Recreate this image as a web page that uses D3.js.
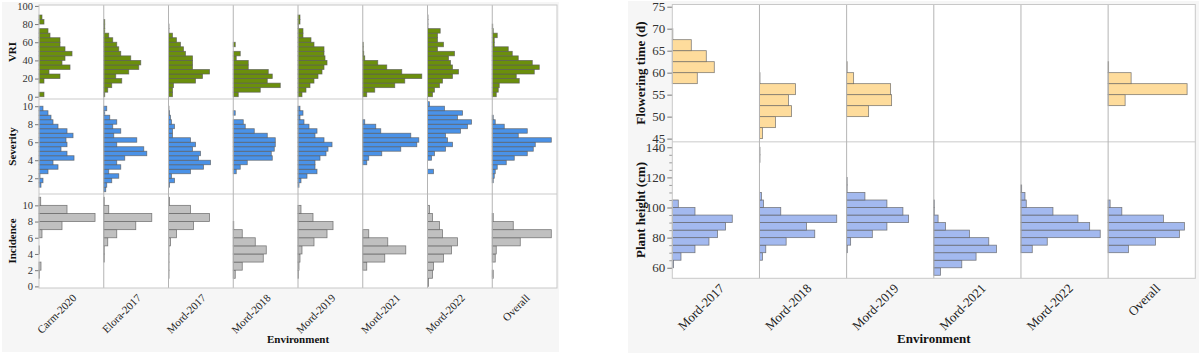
<!DOCTYPE html>
<html>
<head>
<meta charset="utf-8">
<script src="https://cdn.jsdelivr.net/npm/d3@7"></script>
<style>
body { margin: 0; background: #fff; }
text { font-family: "Liberation Serif", "DejaVu Serif", serif; }
</style>
</head>
<body>
<script>
// environments on each panel
const leftEnvs = ["Carm-2020", "Elora-2017", "Mord-2017", "Mord-2018", "Mord-2019", "Mord-2021", "Mord-2022", "Overall"];
const rightEnvs = ["Mord-2017", "Mord-2018", "Mord-2019", "Mord-2021", "Mord-2022", "Overall"];

// VRI: bins of 5, lower edges
const vriEdges = [0, 5, 10, 15, 20, 25, 30, 35, 40, 45, 50, 55, 60, 65, 70, 75, 80, 85];
const vriCounts = [
  [5, 0, 0, 5, 21, 10, 31, 23, 26, 33, 26, 21, 21, 11, 9, 0, 5, 3],
  [1, 4, 8, 18, 12, 25, 35, 37, 27, 17, 15, 13, 9, 5, 1, 1, 1, 0],
  [4, 4, 5, 27, 34, 41, 24, 24, 24, 17, 15, 12, 8, 4, 0.5, 0.5, 0, 0],
  [5, 27, 47, 34, 39, 35, 15, 15, 3, 7, 0, 2, 0, 0, 0, 0, 0, 0],
  [4, 8, 12, 16, 20, 24, 26, 29, 27, 26, 26, 16, 13, 5, 5, 0.5, 2, 2],
  [4, 12, 32, 42, 59, 39, 24, 15, 2, 1, 0.5, 0.5, 0, 0, 0, 0, 0, 0],
  [5, 7, 12, 15, 25, 31, 25, 23, 21, 27, 10, 16, 10, 10, 12.7, 0.5, 0.5, 0.5],
  [4, 6, 7, 27, 24, 42, 47, 40, 26, 20, 16, 2, 2, 5, 1, 0.5, 0, 0]
];

// Severity: bins of 0.5
const sevEdges = [0.5, 1, 1.5, 2, 2.5, 3, 3.5, 4, 4.5, 5, 5.5, 6, 6.5, 7, 7.5, 8, 8.5, 9, 9.5, 10];
const sevCounts = [
  [0, 2, 4, 1, 9, 19, 14, 35, 28, 22, 28, 27, 34, 28, 19, 14, 12, 9, 4, 0],
  [2, 3, 8, 15, 5, 17, 13, 21, 43, 40, 13, 33, 10, 17, 9, 13, 6, 1, 3, 0],
  [0, 1, 6, 3, 22, 35, 42, 30, 32, 24, 27, 22, 4, 4, 6, 3, 2, 1, 0.5, 0],
  [0, 0, 0, 0, 3, 7, 14, 39, 38, 41, 42, 42, 34, 21, 12, 10, 0, 2, 0, 0],
  [0, 1, 3, 9, 19, 17, 17, 22, 28, 30, 34, 26, 17, 19, 11, 6, 2, 5, 2, 0],
  [0, 0, 0, 0, 0, 0, 4, 6, 19, 38, 54, 56, 48, 18, 13, 2, 0, 0, 0, 0],
  [0, 0, 0, 0, 6, 0, 0, 4, 7, 18, 25, 20, 18, 33, 40, 44, 30, 35, 17, 2],
  [0, 0, 1, 2, 3, 5, 14, 22, 35, 41, 43, 59, 26, 35, 12, 3, 1, 0, 0, 0]
];

// Incidence: bins of 1
const incEdges = [0, 1, 2, 3, 4, 5, 6, 7, 8, 9, 10];
const incCounts = [
  [0, 0.5, 2, 0, 0.5, 0, 3, 23, 56, 28, 1.7],
  [0, 0, 0, 0.5, 0.5, 4, 13, 32, 48, 5, 0.5],
  [0, 0.5, 0.5, 0.5, 0.5, 2, 8, 25, 41, 22, 1],
  [0, 2, 9, 30, 33, 22, 9, 0.5, 0, 0, 0],
  [0, 0.5, 1, 2, 4, 16, 29, 35, 15, 3, 0],
  [0, 0, 4, 22, 43, 25, 6, 0, 0, 0, 0],
  [1, 5, 6, 16, 24, 30, 15, 12, 5, 2, 0],
  [0, 1, 0, 3, 4, 28, 59, 21, 1, 0, 0]
];

// Flowering time: bins of 2.5
const flowEdges = [45, 47.5, 50, 52.5, 55, 57.5, 60, 62.5, 65, 67.5];
const flowCounts = [
  [0, 0, 0, 0, 0, 25, 42, 34, 19, 0.5],
  [3, 16, 32, 29, 36, 0.5, 0, 0, 0, 0],
  [0, 0, 22, 45, 44, 7, 0.5, 0, 0, 0],
  null,
  null,
  [0, 0, 0, 17, 79, 23, 0.5, 0, 0, 0]
];

// Plant height: bins of 5
const phEdges = [55, 60, 65, 70, 75, 80, 85, 90, 95, 100, 105, 110, 115, 120, 125, 130, 135];
const phCounts = [
  [0, 1.3, 8.7, 22.7, 36.7, 45.3, 53.3, 60, 22.7, 6, 0, 0, 0, 0, 0, 0, 0],
  [0, 0, 3, 6.3, 26.7, 55.3, 47, 77.3, 21.3, 4, 2, 0, 0, 0, 0, 0.5, 0.5],
  [0, 0, 0, 0.7, 4, 25.7, 40.3, 62, 56.3, 40.3, 18.3, 0.5, 0.5, 0, 0, 0, 0],
  [6.7, 28, 42.3, 62.7, 55, 35.7, 11.7, 4.3, 0.5, 0.5, 0, 0, 0, 0, 0, 0, 0],
  [0, 0, 0, 11.3, 26.3, 79.3, 68.7, 57, 32, 5.3, 4, 0.7, 0, 0, 0, 0, 0],
  [0, 0, 0, 20.3, 47.3, 71.3, 76.3, 55.3, 13.7, 2, 0, 0, 0, 0, 0, 0, 0]
];

const vriTicks = [0, 20, 40, 60, 80, 100];
const sevTicks = [2, 4, 6, 8, 10];
const incTicks = [0, 2, 4, 6, 8, 10];
const flowTicks = [45, 50, 55, 60, 65, 70, 75];
const phTicks = [60, 80, 100, 120, 140];
const phMinor = [65, 70, 75, 85, 90, 95, 105, 110, 115, 125, 130, 135];

const svg = d3.select("body").append("svg")
  .attr("width", 1200).attr("height", 354);

// panel backgrounds
svg.append("rect").attr("x", 2).attr("y", 2).attr("width", 557).attr("height", 350).attr("fill", "#f6f6f6");
svg.append("rect").attr("x", 628).attr("y", 1).attr("width", 571).attr("height", 352).attr("fill", "#f6f6f6");

function drawPanel(p) {
  const band = d3.scaleBand().domain(p.envs).range([p.left, p.right]).padding(0);
  const cnt = d3.scaleLinear().domain([0, p.maxCount]).range([0, band.bandwidth()]);

  svg.append("rect")
    .attr("x", p.left).attr("y", p.top)
    .attr("width", p.right - p.left).attr("height", p.bottom - p.top)
    .attr("fill", "#fff");

  p.rows.forEach(function(r) {
    const y = d3.scaleLinear().domain(r.domain).range([r.bottom, r.top]);
    const g = svg.append("g");
    p.envs.forEach(function(env, ei) {
      const counts = r.counts[ei];
      if (!counts) return;
      const bars = counts.map((c, i) => ({ c: c, lo: r.edges[i] })).filter(d => d.c > 0);
      g.selectAll(null).data(bars).join("rect")
        .attr("x", band(env))
        .attr("y", d => y(d.lo + r.bw))
        .attr("width", d => cnt(d.c))
        .attr("height", d => y(d.lo) - y(d.lo + r.bw))
        .attr("fill", r.fill)
        .attr("stroke", "#5a5a5a")
        .attr("stroke-opacity", 0.75)
        .attr("stroke-width", 0.8);
    });

    // y axis
    const ax = svg.append("g")
      .attr("transform", "translate(" + p.left + ",0)")
      .call(d3.axisLeft(y).tickValues(r.ticks).tickSize(p.tickLen).tickPadding(2));
    ax.select(".domain").remove();
    ax.selectAll(".tick line").attr("stroke", "#777");
    ax.selectAll(".tick text")
      .attr("fill", "#333")
      .style("font-size", p.tickFont + "px")
      .style("font-family", "'Liberation Serif', serif");
    if (r.minor) {
      svg.append("g")
        .attr("transform", "translate(" + p.left + ",0)")
        .call(d3.axisLeft(y).tickValues(r.minor).tickSize(p.tickLen - 2).tickFormat(""))
        .call(a => a.select(".domain").remove())
        .selectAll(".tick line").attr("stroke", "#999");
    }

    svg.append("text")
      .attr("transform", "translate(" + p.titleX + "," + ((r.top + r.bottom) / 2) + ") rotate(-90)")
      .attr("text-anchor", "middle")
      .attr("dy", "0.35em")
      .style("font-size", p.titleFont + "px")
      .style("font-weight", "bold")
      .attr("fill", "#111")
      .text(r.title);
  });

  // row separators
  p.rows.slice(1).forEach(function(r) {
    svg.append("line")
      .attr("x1", p.left).attr("x2", p.right)
      .attr("y1", r.top).attr("y2", r.top)
      .attr("stroke", "#dcdcdc").attr("stroke-width", 1.5);
  });

  // column separators
  p.envs.slice(1).forEach(function(env) {
    svg.append("line")
      .attr("x1", band(env)).attr("x2", band(env))
      .attr("y1", p.top).attr("y2", p.bottom)
      .attr("stroke", "#b4b4b4").attr("stroke-width", 1);
  });

  // frame
  svg.append("rect")
    .attr("x", p.left).attr("y", p.top)
    .attr("width", p.right - p.left).attr("height", p.bottom - p.top)
    .attr("fill", "none").attr("stroke", "#c8c8c8");

  // rotated category labels
  svg.append("g").selectAll("text").data(p.envs).join("text")
    .attr("transform", d => "translate(" + (band(d) + band.bandwidth() / 2 + p.labDx) + "," + p.labY + ") rotate(-45)")
    .attr("text-anchor", "end")
    .attr("dy", "0.35em")
    .style("font-size", p.labFont + "px")
    .attr("fill", "#222")
    .text(d => d);

  svg.append("text")
    .attr("x", (p.left + p.right) / 2 + p.envDx).attr("y", p.envY)
    .attr("text-anchor", "middle")
    .style("font-size", p.titleFont + "px")
    .style("font-weight", "bold")
    .attr("fill", "#111")
    .text("Environment");
}

drawPanel({
  envs: leftEnvs, left: 39, right: 557, top: 5, bottom: 288, maxCount: 64.7,
  tickLen: 4, tickFont: 10.5, titleFont: 11, titleX: 12,
  labDx: 3, labY: 296, labFont: 11, envY: 343, envDx: 0,
  rows: [
    { title: "VRI", top: 5, bottom: 99, domain: [-2.5, 101], edges: vriEdges, bw: 5, counts: vriCounts, ticks: vriTicks, fill: "#6b8f0c" },
    { title: "Severity", top: 99, bottom: 194, domain: [0.25, 10.8], edges: sevEdges, bw: 0.5, counts: sevCounts, ticks: sevTicks, fill: "#4a92e8" },
    { title: "Incidence", top: 194, bottom: 288, domain: [-0.2, 11.4], edges: incEdges, bw: 1, counts: incCounts, ticks: incTicks, fill: "#c0c0c0" }
  ]
});

drawPanel({
  envs: rightEnvs, left: 672.3, right: 1195.3, top: 4.5, bottom: 278.3, maxCount: 87.2,
  tickLen: 5, tickFont: 13, titleFont: 13, titleX: 640,
  labDx: 6, labY: 286, labFont: 13, envY: 343, envDx: 0,
  rows: [
    { title: "Flowering time (d)", top: 4.5, bottom: 141.7, domain: [44.3, 75.5], edges: flowEdges, bw: 2.5, counts: flowCounts, ticks: flowTicks, fill: "#fedc9c" },
    { title: "Plant height (cm)", top: 141.7, bottom: 278.3, domain: [53, 143.7], edges: phEdges, bw: 5, counts: phCounts, ticks: phTicks, minor: phMinor, fill: "#a3b9ef" }
  ]
});
</script>
</body>
</html>
